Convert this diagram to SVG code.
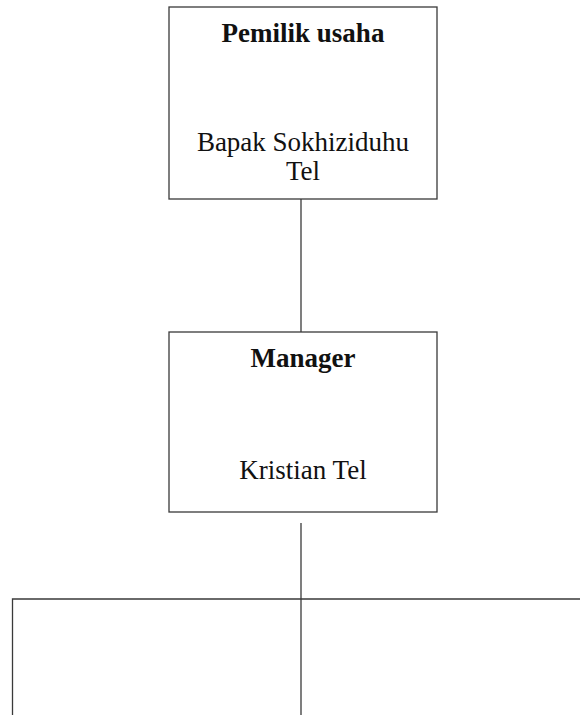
<svg xmlns="http://www.w3.org/2000/svg" width="580" height="715" viewBox="0 0 580 715">
<style>
.box{fill:#fff;stroke:#3a3a3a;stroke-width:1.3}
.ln{stroke:#3a3a3a;stroke-width:1.3;fill:none}
.t{font-family:"Liberation Serif","Times New Roman",serif;font-size:27px;fill:#111;text-anchor:middle}
.b{font-weight:bold}
</style>
<rect width="580" height="715" fill="#fff"/>
<g id="connectors">
<line class="ln" x1="301" y1="199" x2="301" y2="332"/>
<line class="ln" x1="301" y1="523" x2="301" y2="715"/>
<polyline class="ln" points="12.5,715 12.5,599 580,599"/>
</g>
<g id="pemilik">
<rect class="box" x="169" y="7" width="268" height="192"/>
<text class="t b" x="303" y="42">Pemilik usaha</text>
<text class="t" x="303" y="151">Bapak Sokhiziduhu</text>
<text class="t" x="303" y="180">Tel</text>
</g>
<g id="manager">
<rect class="box" x="169" y="332" width="268" height="180"/>
<text class="t b" x="303" y="367">Manager</text>
<text class="t" x="303" y="479">Kristian Tel</text>
</g>
</svg>
